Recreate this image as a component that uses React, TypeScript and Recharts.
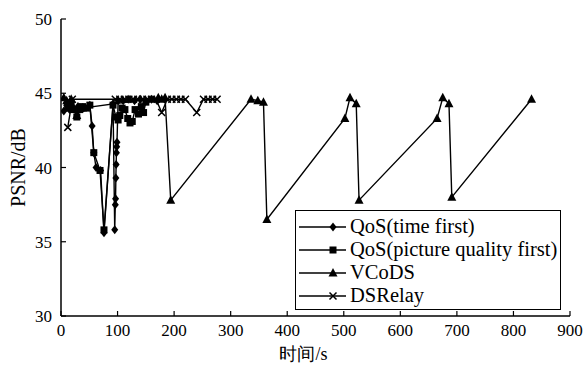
import { LineChart, Line, XAxis, YAxis } from "recharts";

// QoS (time first) — diamonds
const qosTimeT = [5, 10, 15, 22, 30, 40, 51, 55, 58, 62, 70, 76, 92, 95, 96, 96.5, 97, 97.5, 98, 98.5, 99, 101, 110, 120, 130, 140, 150, 160, 170];
const qosTimeV = [43.8, 44.2, 43.9, 44.0, 44.1, 44.0, 44.2, 42.8, 41.0, 40.0, 39.8, 35.6, 44.3, 35.8, 37.5, 37.9, 39.3, 40.2, 41.0, 41.4, 41.7, 44.5, 44.5, 44.6, 44.5, 44.6, 44.5, 44.6, 44.5];

// QoS (picture quality first) — squares
const qosPicT = [12, 18, 22, 28, 33, 38, 45, 51, 58, 69, 76, 92, 97, 101, 104, 108, 113, 118, 122, 126, 131, 137, 142, 146, 150];
const qosPicV = [44.0, 44.3, 43.9, 43.4, 43.9, 44.1, 44.0, 44.2, 41.0, 39.8, 35.8, 44.2, 43.4, 43.2, 43.5, 44.0, 43.9, 43.3, 43.0, 43.1, 43.9, 43.6, 44.1, 43.7, 44.4];

// VCoDS — triangles
const vcodsT = [5, 10, 18, 28, 38, 172, 178, 184, 194, 336, 348, 358, 364, 502, 511, 522, 527, 665, 675, 686, 691, 832];
const vcodsV = [44.7, 44.5, 44.6, 43.5, 44.0, 44.7, 44.6, 44.7, 37.8, 44.6, 44.5, 44.4, 36.5, 43.3, 44.7, 44.3, 37.8, 43.3, 44.7, 44.3, 38.0, 44.6];

// DSRelay — crosses
const relayT = [12, 20, 96, 104, 112, 120, 128, 136, 144, 152, 160, 168, 178, 188, 196, 204, 212, 220, 240, 252, 260, 268, 276];
const relayV = [42.7, 44.6, 44.6, 44.6, 44.6, 44.6, 44.6, 44.6, 44.6, 44.6, 44.6, 44.6, 43.7, 44.6, 44.6, 44.6, 44.6, 44.6, 43.7, 44.6, 44.6, 44.6, 44.6];

const xTicks = [0, 100, 200, 300, 400, 500, 600, 700, 800, 900];
const yTicks = [30, 35, 40, 45, 50];

const zip = (t: number[], v: number[]) => t.map((x, i) => ({ t: x, v: v[i] }));

const FONT = "Liberation Serif";

const Diamond = ({ cx, cy }: any) => (
  <path d={`M${cx},${cy - 4.5}L${cx + 3.5},${cy}L${cx},${cy + 4.5}L${cx - 3.5},${cy}Z`} fill="#000" />
);
const Square = ({ cx, cy }: any) => <rect x={cx - 3.5} y={cy - 3.5} width={7} height={7} fill="#000" />;
const Triangle = ({ cx, cy }: any) => (
  <path d={`M${cx},${cy - 5}L${cx + 4.5},${cy + 3.5}L${cx - 4.5},${cy + 3.5}Z`} fill="#000" />
);
const Cross = ({ cx, cy }: any) => (
  <path d={`M${cx - 3.5},${cy - 3.5}L${cx + 3.5},${cy + 3.5}M${cx + 3.5},${cy - 3.5}L${cx - 3.5},${cy + 3.5}`} stroke="#000" strokeWidth={1.5} />
);

const SERIES = [
  { name: "QoS(time first)", data: zip(qosTimeT, qosTimeV), Marker: Diamond },
  { name: "QoS(picture quality first)", data: zip(qosPicT, qosPicV), Marker: Square },
  { name: "VCoDS", data: zip(vcodsT, vcodsV), Marker: Triangle },
  { name: "DSRelay", data: zip(relayT, relayV), Marker: Cross },
];

const LegendBox = () => (
  <div
    style={{
      position: "absolute",
      left: 295,
      top: 210,
      border: "1.5px solid #000",
      background: "#fff",
      width: 266,
      height: 100,
      boxSizing: "border-box",
      padding: "4px 0 0 0",
      fontSize: 20.5,
      lineHeight: "23px",
      fontFamily: FONT,
    }}
  >
    {SERIES.map(({ name, Marker }) => (
      <div key={name} style={{ display: "flex", alignItems: "center", whiteSpace: "nowrap" }}>
        <svg width={52} height={12} style={{ marginRight: 2 }}>
          <line x1={3} y1={6} x2={50} y2={6} stroke="#000" strokeWidth={1.5} />
          <Marker cx={37} cy={6} />
        </svg>
        <span>{name}</span>
      </div>
    ))}
  </div>
);

const tickStyle = { fill: "#000", fontSize: 17, fontFamily: FONT };

export default function App() {
  return (
    <div style={{ position: "absolute", left: 0, top: 0, width: 588, height: 365, background: "#fff", fontFamily: FONT }}>
      <LineChart width={588} height={365} margin={{ top: 19, right: 18, bottom: 0, left: 11 }}>
        <XAxis
          xAxisId="b"
          dataKey="t"
          type="number"
          domain={[0, 900]}
          ticks={xTicks}
          allowDataOverflow
          axisLine={{ stroke: "#000", strokeWidth: 1.5 }}
          tickLine={{ stroke: "#000", strokeWidth: 1.2 }}
          tickSize={-5}
          tickMargin={13}
          tick={tickStyle}
          height={49}
          label={{ value: "时间/s", position: "insideBottom", offset: 5, dx: -12, fill: "#000", fontSize: 18, fontFamily: FONT }}
        />
        <XAxis
          xAxisId="top"
          orientation="top"
          type="number"
          domain={[0, 900]}
          height={0}
          tick={false}
          tickLine={false}
          axisLine={{ stroke: "#000", strokeWidth: 1.5 }}
        />
        <YAxis
          yAxisId="l"
          type="number"
          domain={[30, 50]}
          ticks={yTicks}
          allowDataOverflow
          width={50}
          axisLine={{ stroke: "#000", strokeWidth: 1.5 }}
          tickLine={{ stroke: "#000", strokeWidth: 1.2 }}
          tickSize={-5}
          tickMargin={14}
          tick={tickStyle}
          label={{ value: "PSNR/dB", angle: -90, position: "insideLeft", offset: 0, dx: 7, fill: "#000", fontSize: 20, fontFamily: FONT, style: { textAnchor: "middle" } }}
        />
        <YAxis
          yAxisId="r"
          orientation="right"
          type="number"
          domain={[30, 50]}
          width={0}
          tick={false}
          tickLine={false}
          axisLine={{ stroke: "#000", strokeWidth: 1.5 }}
        />
        {SERIES.map(({ name, data, Marker }) => (
          <Line
            key={name}
            name={name}
            xAxisId="b"
            yAxisId="l"
            data={data}
            dataKey="v"
            stroke="#000"
            strokeWidth={1.4}
            isAnimationActive={false}
            dot={(p: any) => <Marker key={p.index} cx={p.cx} cy={p.cy} />}
            activeDot={false}
          />
        ))}
      </LineChart>
      <LegendBox />
    </div>
  );
}
